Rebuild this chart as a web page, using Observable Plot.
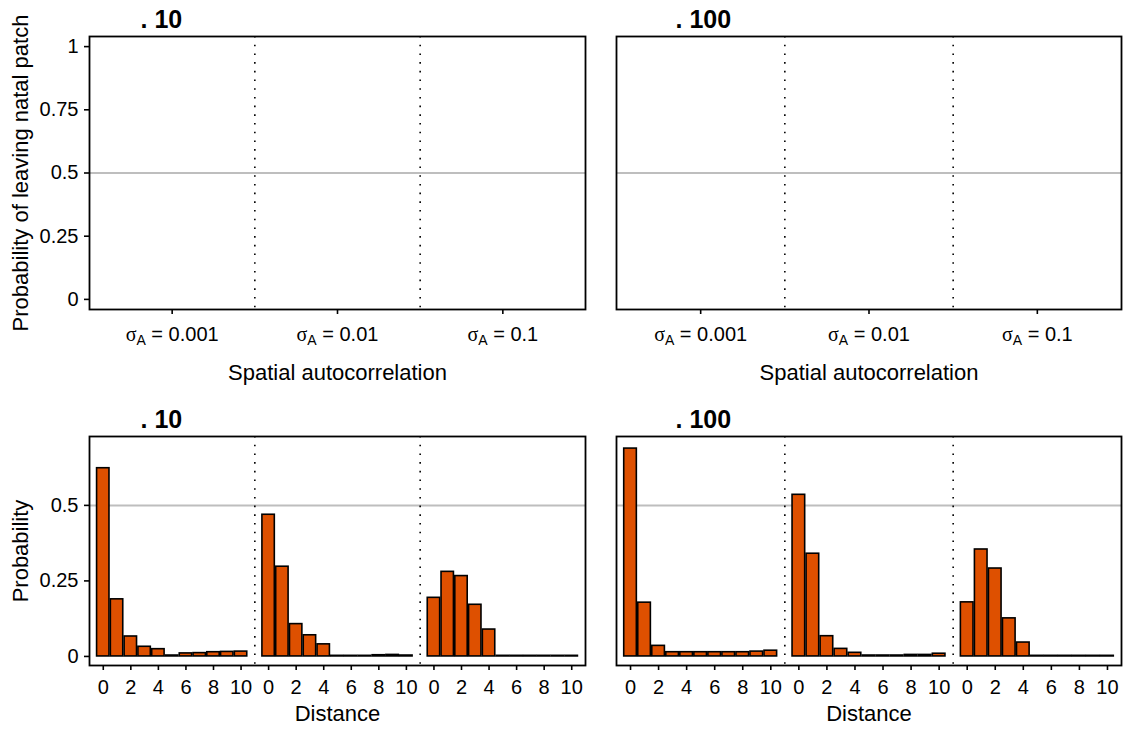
<!DOCTYPE html>
<html><head><meta charset="utf-8">
<script src="https://cdn.jsdelivr.net/npm/d3@7"></script>
<script src="https://cdn.jsdelivr.net/npm/@observablehq/plot@0.6"></script>
<style>
body{margin:0;background:#fff;}
#wrap{position:relative;width:1124px;height:730px;overflow:hidden;background:#fff}
#wrap svg{position:absolute;margin:0}
</style></head><body><div id="wrap"></div>
<script>
// ---- data ----
const sigmaLabels = ["0.001", "0.01", "0.1"];
const distances = [0, 1, 2, 3, 4, 5, 6, 7, 8, 9, 10];
const distanceTicks = [0, 2, 4, 6, 8, 10];
const leaveTicks = [0, 0.25, 0.5, 0.75, 1];
const probTicks = [0, 0.25, 0.5];
const panelTitles = [". 10", ". 100"];
const leaveLabel = "Probability of leaving natal patch";
const probLabel = "Probability";
const topXLabel = "Spatial autocorrelation";
const bottomXLabel = "Distance";

// dispersal-distance probabilities, title ". 10"
const dist10_s0001 = [0.623, 0.189, 0.066, 0.032, 0.024, 0.003, 0.010, 0.011, 0.014, 0.015, 0.016];
const dist10_s001  = [0.469, 0.297, 0.107, 0.070, 0.040, 0.002, 0.002, 0.002, 0.004, 0.005, 0.003];
const dist10_s01   = [0.194, 0.280, 0.266, 0.171, 0.089, 0.002, 0.002, 0.002, 0.002, 0.002, 0.002];
// title ". 100"
const dist100_s0001 = [0.688, 0.178, 0.035, 0.014, 0.014, 0.014, 0.014, 0.014, 0.014, 0.016, 0.019];
const dist100_s001  = [0.535, 0.340, 0.067, 0.025, 0.012, 0.003, 0.003, 0.003, 0.005, 0.005, 0.009];
const dist100_s01   = [0.179, 0.354, 0.291, 0.126, 0.046, 0.002, 0.002, 0.002, 0.002, 0.002, 0.002];

// ---- layout helpers ----
const STEP = 12;          // x-units per sigma group (11 distances + 1 gap)
const CENTER = 5;         // group centre in x-units
const FONT = "Liberation Sans, Arial, Helvetica, sans-serif";
const BAR = "#de5000";

function rows(series) {
  const out = [];
  series.forEach((vals, g) => vals.forEach((p, k) => out.push({g, d: distances[k], p})));
  return out;
}

function panel(o) {
  const marks = [
    Plot.ruleY([0.5], {stroke: "#bebebe", strokeWidth: 2}),
    Plot.ruleX(sigmaLabels.slice(0, -1), {x: (d, i) => i * STEP + 11, stroke: "black", strokeWidth: 1.6, strokeDasharray: "1.6,7.1"}),
  ];
  if (o.bars) {
    marks.push(Plot.rectY(rows(o.bars), {
      x1: r => r.g * STEP + r.d - 0.45, x2: r => r.g * STEP + r.d + 0.45, y: "p",
      fill: BAR, stroke: "black", strokeWidth: 1.6
    }));
  }
  marks.push(Plot.frame({stroke: "black", strokeWidth: 1.8}));
  marks.push(Plot.axisX({ticks: o.xTicks, tickFormat: o.xFmt, tickSize: 5, tickPadding: o.xPad, strokeWidth: 1.6, fontSize: 20, label: null}));
  if (o.yTicks) {
    marks.push(Plot.axisY({ticks: o.yTicks, tickFormat: d => String(d), tickSize: 5, tickPadding: 6, strokeWidth: 1.6, fontSize: 20, label: null}));
    marks.push(Plot.text([o.yLabel], {frameAnchor: "left", dx: -77, rotate: -90, lineAnchor: "top", textAnchor: "middle", fontSize: 22}));
  }
  marks.push(Plot.text([o.xLabel], {frameAnchor: "bottom", dy: o.xLabelDy, lineAnchor: "bottom", textAnchor: "middle", fontSize: 22}));
  marks.push(Plot.text([o.title], {frameAnchor: "top-left", dx: o.titleDx, dy: -17, lineAnchor: "middle", textAnchor: "start", fontSize: 25, fontWeight: "bold"}));

  const svg = Plot.plot({
    width: o.width, height: o.height,
    marginTop: o.mt, marginBottom: o.mb, marginLeft: o.ml, marginRight: o.mr,
    x: {type: "linear", domain: [-1, 3 * STEP - 1]},
    y: o.yTicks ? {domain: o.yDomain} : {domain: o.yDomain, axis: null},
    style: {fontFamily: FONT, fontSize: "20px", background: "transparent", overflow: "visible", color: "black"},
    marks
  });
  svg.style.left = o.left + "px";
  svg.style.top = o.top + "px";
  if (o.subscript) {
    const ns = "http://www.w3.org/2000/svg";
    svg.querySelectorAll('[aria-label="x-axis tick label"] text').forEach(t => {
      const val = t.textContent;
      t.textContent = "";
      const s = document.createElementNS(ns, "tspan");
      s.setAttribute("font-family", "Liberation Serif, DejaVu Serif, serif");
      s.textContent = "σ";
      const a = document.createElementNS(ns, "tspan");
      a.setAttribute("font-size", "14px"); a.setAttribute("dy", "4");
      a.textContent = "A";
      const r = document.createElementNS(ns, "tspan");
      r.setAttribute("dy", "-4");
      r.textContent = " = " + val;
      t.append(s, a, r);
    });
  }
  document.getElementById("wrap").appendChild(svg);
}

const topCommon = {top: 0, height: 390, mt: 36, mb: 81, yDomain: [-0.04, 1.04],
  xTicks: sigmaLabels.map((s, i) => i * STEP + CENTER), xFmt: v => sigmaLabels[(v - CENTER) / STEP],
  xPad: 12, xLabel: topXLabel, xLabelDy: 70, subscript: true};
const botCommon = {top: 400, height: 330, mt: 36, mb: 65, yDomain: [-0.03, 0.728],
  xTicks: sigmaLabels.flatMap((s, i) => distanceTicks.map(d => i * STEP + d)), xFmt: v => v - STEP * Math.floor(v / STEP),
  xPad: 9, xLabel: bottomXLabel, xLabelDy: 55};

panel({...topCommon, left: 0, width: 590, ml: 89, mr: 5, yTicks: leaveTicks, yLabel: leaveLabel, title: panelTitles[0], titleDx: 51});
panel({...topCommon, left: 596, width: 528, ml: 20, mr: 3, title: panelTitles[1], titleDx: 59});
panel({...botCommon, left: 0, width: 590, ml: 89, mr: 5, yTicks: probTicks, yLabel: probLabel, title: panelTitles[0], titleDx: 51,
  bars: [dist10_s0001, dist10_s001, dist10_s01]});
panel({...botCommon, left: 596, width: 528, ml: 20, mr: 3, title: panelTitles[1], titleDx: 59,
  bars: [dist100_s0001, dist100_s001, dist100_s01]});
</script></body></html>
